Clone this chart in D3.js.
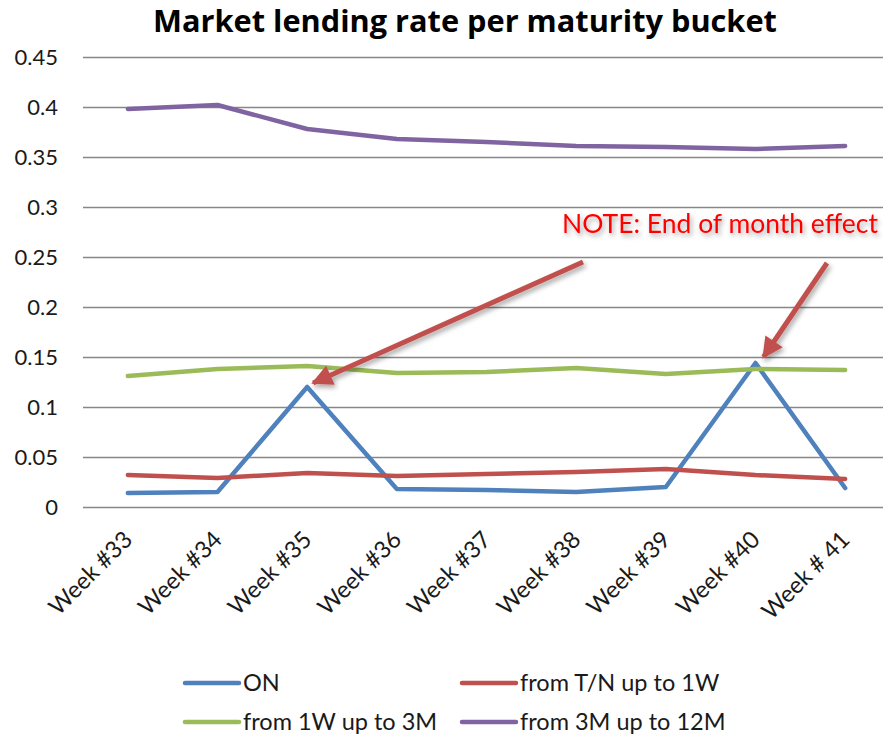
<!DOCTYPE html>
<html>
<head>
<meta charset="utf-8">
<script src="https://cdn.jsdelivr.net/npm/d3@7"></script>
<style>
  body { margin: 0; background: #fff; }
  svg { display: block; font-family: Lato, "Open Sans", sans-serif; }
</style>
</head>
<body>
<div id="chart"></div>
<script>
// data
var weeks = ["Week #33", "Week #34", "Week #35", "Week #36", "Week #37",
             "Week #38", "Week #39", "Week #40", "Week # 41"];
var onRate   = [0.014, 0.015, 0.120, 0.018, 0.017, 0.015, 0.020, 0.144, 0.019];
var tnTo1w   = [0.032, 0.029, 0.034, 0.031, 0.033, 0.035, 0.038, 0.032, 0.028];
var w1To3m   = [0.131, 0.138, 0.141, 0.134, 0.135, 0.139, 0.133, 0.138, 0.137];
var m3To12m  = [0.398, 0.402, 0.378, 0.368, 0.365, 0.361, 0.360, 0.358, 0.361];
var yTicks   = [0, 0.05, 0.1, 0.15, 0.2, 0.25, 0.3, 0.35, 0.4, 0.45];
var seriesNames  = ["ON", "from T/N up to 1W", "from 1W up to 3M", "from 3M up to 12M"];
var seriesColors = ["#4f81bd", "#c0504d", "#9bbb59", "#8064a2"];

var series = [onRate, tnTo1w, w1To3m, m3To12m].map(function(v, i) {
  return { name: seriesNames[i], color: seriesColors[i], values: v };
});

var width = 883, height = 742;
var margin = {top: 57, right: -7, bottom: 235, left: 83};

var svg = d3.select("#chart").append("svg")
  .attr("width", width)
  .attr("height", height);

var defs = svg.append("defs");

// soft shadow like the office drawing
var shadow = defs.append("filter").attr("id", "shadow")
  .attr("x", "-20%").attr("y", "-20%").attr("width", "140%").attr("height", "140%");
shadow.append("feDropShadow")
  .attr("dx", 2).attr("dy", 3).attr("stdDeviation", 2.5)
  .attr("flood-color", "#000").attr("flood-opacity", 0.35);

defs.append("marker")
  .attr("id", "head")
  .attr("viewBox", "0 0 10 10")
  .attr("refX", 9).attr("refY", 5)
  .attr("markerWidth", 4.6).attr("markerHeight", 4.2)
  .attr("markerUnits", "strokeWidth")
  .attr("orient", "auto")
  .append("path")
  .attr("d", "M0,0 L10,5 L0,10 Z")
  .attr("fill", "#c0504d");

var x = d3.scalePoint()
  .domain(weeks)
  .range([margin.left, width - margin.right])
  .padding(0.5);

var y = d3.scaleLinear()
  .domain([0, 0.45])
  .range([height - margin.bottom, margin.top]);

// gridlines + y labels
var yAxis = d3.axisLeft(y)
  .tickValues(yTicks)
  .tickSize(-(width - margin.right - margin.left))
  .tickPadding(25)
  .tickFormat(function(d) { return d === 0 ? "0" : d3.format("")(+d.toFixed(2)); });

var gy = svg.append("g")
  .attr("transform", "translate(" + margin.left + ",0)")
  .call(yAxis);
gy.select(".domain").remove();
gy.selectAll(".tick line").attr("stroke", "#878787").attr("stroke-width", 1.6);
gy.selectAll(".tick text")
  .attr("font-size", 22)
  .attr("fill", "#1a1a1a")
  .attr("font-family", "Lato, sans-serif");

// x labels, rotated
svg.append("g").selectAll("text")
  .data(weeks)
  .join("text")
  .attr("transform", function(d) { return "translate(" + (x(d) + 6) + "," + 541 + ") rotate(-45)"; })
  .attr("text-anchor", "end")
  .attr("font-size", 23.5)
  .attr("fill", "#1a1a1a")
  .text(function(d) { return d; });

// lines
var line = d3.line()
  .x(function(d, i) { return x(weeks[i]); })
  .y(function(d) { return y(d); });

svg.append("g").selectAll("path")
  .data(series)
  .join("path")
  .attr("d", function(s) { return line(s.values); })
  .attr("fill", "none")
  .attr("stroke", function(s) { return s.color; })
  .attr("stroke-width", 4.5)
  .attr("stroke-linejoin", "round")
  .attr("stroke-linecap", "round");

// title, sized to the reference width
var title = svg.append("text")
  .attr("x", 465)
  .attr("y", 32)
  .attr("text-anchor", "middle")
  .attr("font-family", "'Open Sans', sans-serif")
  .attr("font-size", 27)
  .attr("font-weight", "bold")
  .attr("fill", "#000")
  .text("Market lending rate per maturity bucket");
var tw = title.node().getComputedTextLength();
title.attr("font-size", Math.min(31, 27 * 624 / tw));

// note + arrows
var note = svg.append("text")
  .attr("x", 562)
  .attr("y", 233)
  .attr("font-size", 24)
  .attr("fill", "#ff0000")
  .attr("filter", "url(#shadow)")
  .text("NOTE: End of month effect");
var nw = note.node().getComputedTextLength();
note.attr("font-size", 24 * 316 / nw);

var arrows = [
  { from: [583, 262], to: [x("Week #35") + 6, y(onRate[2]) - 4] },
  { from: [827, 263], to: [x("Week #40") + 8, y(onRate[7]) - 6] }
];
svg.append("g").selectAll("line")
  .data(arrows)
  .join("line")
  .attr("x1", function(d) { return d.from[0]; })
  .attr("y1", function(d) { return d.from[1]; })
  .attr("x2", function(d) { return d.to[0]; })
  .attr("y2", function(d) { return d.to[1]; })
  .attr("stroke", "#c0504d")
  .attr("stroke-width", 5)
  .attr("marker-end", "url(#head)")
  .attr("filter", "url(#shadow)");

// legend
var legend = svg.append("g").selectAll("g")
  .data(series)
  .join("g")
  .attr("transform", function(d, i) {
    return "translate(" + (i % 2 ? 462 : 185) + "," + (i < 2 ? 683 : 722) + ")";
  });
legend.append("line")
  .attr("x1", 0).attr("x2", 54)
  .attr("stroke", function(d) { return d.color; })
  .attr("stroke-width", 4.5)
  .attr("stroke-linecap", "round");
legend.append("text")
  .attr("x", 58)
  .attr("dy", "0.35em")
  .attr("font-size", 23.5)
  .attr("fill", "#1a1a1a")
  .text(function(d) { return d.name; });
</script>
</body>
</html>
